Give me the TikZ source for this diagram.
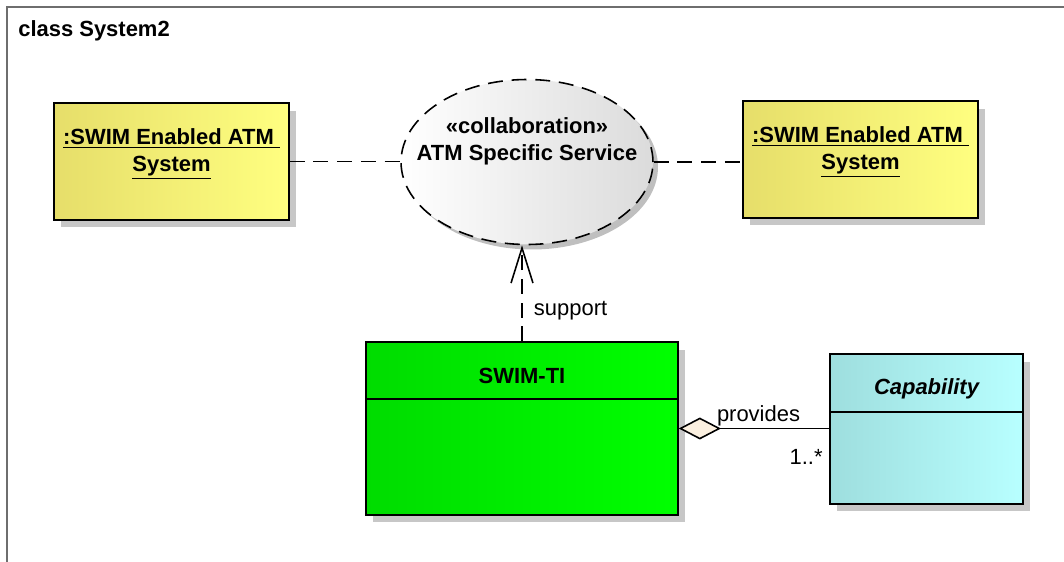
\documentclass[tikz,border=0pt]{standalone}
\usepackage{fontspec}
\setmainfont{Liberation Sans}
\usetikzlibrary{shapes.geometric,arrows.meta,shadows}
\definecolor{objyellowL}{HTML}{E6DE6A}
\definecolor{objyellowR}{HTML}{FFFF80}
\definecolor{tigreenL}{HTML}{00DC00}
\definecolor{tigreenR}{HTML}{00FF00}
\definecolor{capcyanL}{HTML}{9EDEDE}
\definecolor{capcyanR}{HTML}{B8FFFF}
\definecolor{diafill}{HTML}{FBF0E0}
\definecolor{frameline}{HTML}{6E6E6E}
\newcommand\diafont{\fontsize{12.5}{15.3}\selectfont}
\begin{document}
\begin{tikzpicture}[x=0.02cm,y=-0.02cm,
  font=\diafont,
  boxshadow/.style={drop shadow={shadow xshift=0.14cm,shadow yshift=-0.15cm,fill=black!22,opacity=1}},
  objbox/.style={draw,line width=0.9pt,boxshadow,left color=objyellowL,right color=objyellowR,
    minimum width=4.7cm,minimum height=2.34cm},
  classbox/.style={draw,line width=0.9pt,boxshadow},
  dashline/.style={line width=0.9pt,dash pattern=on 8.5pt off 5pt}]
\useasboundingbox (0,0) rectangle (1064,561);
\draw[frameline,line width=0.8pt] (1070,7)--(7,7)--(7,570);
\node[anchor=base west,inner sep=0pt,font=\diafont\bfseries] (title) at (18,36) {class System2};

% objects
\node[objbox] (leftsys) at (171.5,161.5) {};
\node[objbox] (rightsys) at (860.5,159.5) {};
\foreach \o in {leftsys,rightsys}
{
    \node[align=center,font=\diafont\bfseries] (\o txt) at ([yshift=0.15cm]\o.center)
      {\underline{:SWIM Enabled ATM\ }\\\underline{System}};
}

% collaboration
\node[ellipse,draw,dashline,minimum width=5.04cm,minimum height=3.3cm,
  drop shadow={shadow xshift=0.1cm,shadow yshift=-0.1cm,fill=black!25,opacity=1},
  left color=white,right color=black!14] (collab) at (527,162) {};
\node[align=center,font=\diafont\bfseries] (collabtxt) at ([yshift=0.42cm]collab.center)
  {«collaboration»\\ATM Specific Service};

% classes
\node[classbox,left color=tigreenL,right color=tigreenR,minimum width=6.24cm,minimum height=3.46cm] (swimti) at (522,428.5) {};
\draw[line width=0.9pt] ([yshift=-1.16cm]swimti.north west)--([yshift=-1.16cm]swimti.north east);
\node[anchor=base,font=\diafont\bfseries] (swimtiname) at ([yshift=-0.84cm]swimti.north) {SWIM-TI};

\node[classbox,left color=capcyanL,right color=capcyanR,minimum width=3.86cm,minimum height=3cm] (capab) at (926.5,429) {};
\draw[line width=0.9pt] ([yshift=-1.18cm]capab.north west)--([yshift=-1.18cm]capab.north east);
\node[anchor=base,font=\diafont\bfseries\itshape] (capabname) at ([yshift=-0.82cm]capab.north) {Capability};

% connectors
\draw[dashline] (leftsys.east)--(leftsys.east -| collab.west);
\draw[dashline] (collab.east)--(collab.east -| rightsys.west);
\draw[dashline,-{Straight Barb[length=20pt,width=12.5pt,line width=0.9pt]}] (swimti.north)--(swimti.north |- collab.south)
  node[pos=0.32,right,xshift=3pt] {support};
\draw[line width=0.9pt,{Diamond[length=24pt,width=12.5pt,fill=diafill]}-] (swimti.east)--(swimti.east -| capab.west)
  node[pos=0.53,above,inner sep=1pt] {provides}
  node[at end,below left,yshift=-8pt] {1..*};
\end{tikzpicture}
\end{document}
